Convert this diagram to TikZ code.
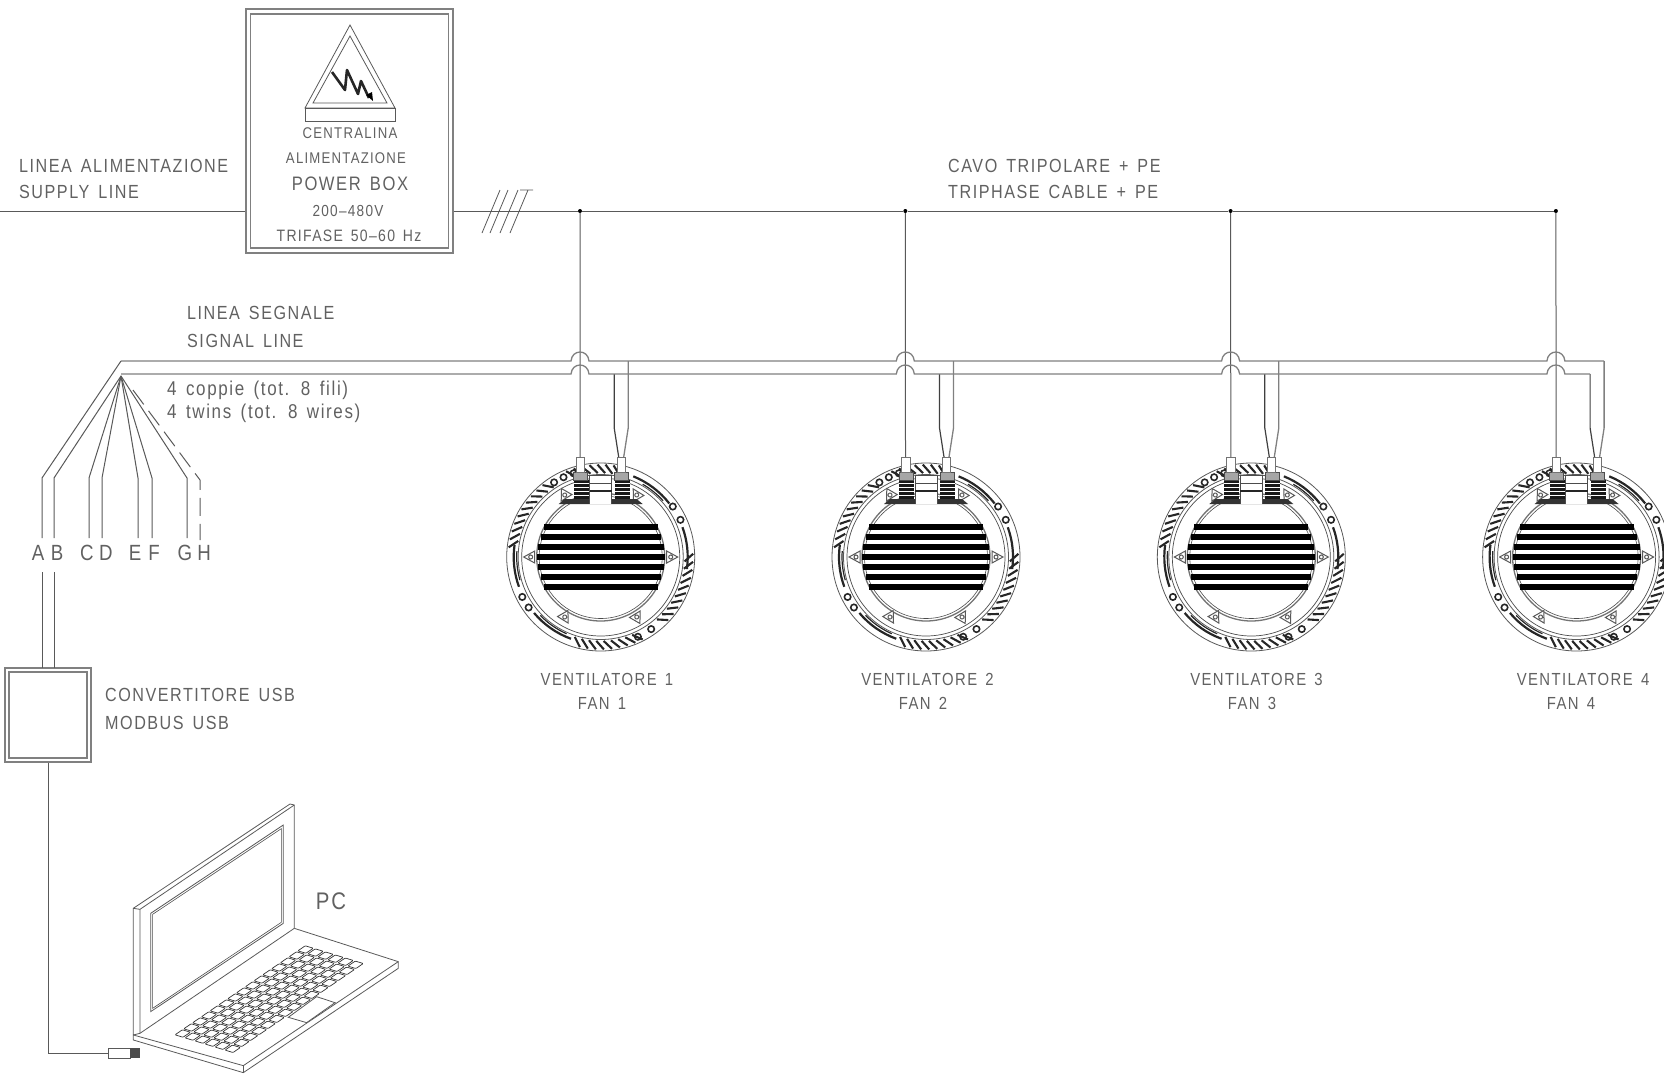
\documentclass[tikz,border=0pt]{standalone}
\usepackage{fontspec}
\usetikzlibrary{calc}
\newfontfamily\cadf[FakeStretch=.85,LetterSpace=8,WordSpace=1.3]{Liberation Sans}
\newfontfamily\cads[FakeStretch=.85,LetterSpace=8,WordSpace=1.5]{Liberation Sans}
\tikzset{
  wire/.style={line width=1pt,draw=black!65},
  sigwire/.style={line width=1.3pt,draw=black!50},
  thin wire/.style={line width=.8pt,draw=black!65},
  label/.style={inner sep=0pt,text=black!62,font=\cadf\fontsize{#1}{#1}\selectfont},
  label/.default=19,
  wlabel/.style={inner sep=0pt,text=black!62,font=\cads\fontsize{#1}{#1}\selectfont},
  joint/.style={circle,fill=black,inner sep=0pt,minimum size=4pt},
  boxline/.style={draw=black!50,line width=1.2pt,inner sep=0pt},
  fan/.pic={
    \begin{scope}[x=1pt,y=1pt]
      % body rings
      \draw[thin wire] (0,0) circle (94);
      \draw[thin wire] (0,0) circle (82.5);
      \draw[line width=.7pt,draw=black!70] (0,0) circle (79);
      \draw[line width=1.3pt,draw=black!55] (0,0) circle (64);
      \draw[line width=.6pt,draw=black!70] (0,0) circle (61.5);
      % ticks in the outer ring
      \foreach \a in {72,77,...,107,124,129,...,169,252,257,...,292,312,317,...,357}
        \draw[line width=2.1pt,black!85] (\a:84) -- (\a+5:92.5);
      % bands in the outer ring
      \foreach \s/\e in {38/68,172/200,220/250,-8/20}
        \draw[line width=2.2pt,black!85] (\s:87) arc (\s:\e:87);
      \foreach \s/\e in {42/60,176/196,224/246}
        \draw[line width=1.2pt,black!85] (\s:84) arc (\s:\e:84);
      % small circles in the outer ring
      \foreach \a in {25,35,108,115,122,207,215,295,305}
        \draw[line width=1.6pt,black!85] (\a:88) circle (3.2);
      % fins
      \foreach \y/\w in {-30/57,-20/60,-10/63,0/64,10/63,20/60,30/57}
        \fill[black] (-\w,\y-2.6) rectangle (\w,\y+2.6);
      % lugs
      \foreach \x/\y/\r in {-70/0/90,70/0/-90,-36/-60/-150,36/-60/-30,-36/62/150,36/62/30}
        \draw[line width=1pt,black!65,fill=white,shift={(\x,\y)},rotate=\r]
          (-6,-4) -- (6,-4) -- (0,7) -- cycle (0,0) circle (2);
      % top plate and terminals
      \fill[black!80] (-42,53) -- (42,53) -- (36,58) -- (-36,58) -- cycle;
      \fill[black!90] (-27,58) rectangle (-12,77);
      \fill[black!90] (14,58) rectangle (29,77);
      \foreach \y in {62,66,...,74} {
        \draw[white,line width=.5pt] (-27,\y) -- (-12,\y);
        \draw[white,line width=.5pt] (14,\y) -- (29,\y);
      }
      \fill[white] (-11,53) rectangle (11,82);
      \draw[line width=.7pt,black!70] (-11,82) -- (11,82) (-11,53) -- (-11,82) (11,53) -- (11,82)
        (-11,74) -- (11,74);
      \draw[line width=1.2pt,black!85] (-11,66) -- (11,66);
      \draw[line width=.9pt,black!70,fill=black!35] (-27,77) rectangle (-13,85);
      \draw[line width=.9pt,black!70,fill=black!35] (14,77) rectangle (28,85);
      \draw[line width=.9pt,black!55,fill=white] (-24.5,85) rectangle (-16,100);
      \draw[line width=.9pt,black!55,fill=white] (16.5,85) rectangle (24.5,100);
      % wire anchor points
      \coordinate (-conn1) at (-20.5,100);
      \coordinate (-conna) at (18,100);
      \coordinate (-connb) at (23,100);
      \coordinate (-kneea) at (13.5,129);
      \coordinate (-kneeb) at (27.5,129);
      \coordinate (-low) at (13.5,183);
      \coordinate (-up) at (27.5,196);
    \end{scope}
  }
}
\begin{document}
\begin{tikzpicture}[x=1pt,y=-1pt]
\useasboundingbox (0,0) rectangle (1664,1074);

% power box
\node[boxline,minimum width=207pt,minimum height=244pt] (pb) at (349.5,131) {};
\node[boxline,minimum width=198pt,minimum height=234pt] (pbi) at (349.5,131) {};
\draw[thin wire] (350,25) -- (395,108) -- (305,108) -- cycle;
\draw[thin wire] (350,36) -- (387,103) -- (313,103) -- cycle;
\draw[thin wire] (305,108) rectangle (395,121);
\draw[line width=2.6pt,black!85,line join=round] (332,72) -- (345,90) -- (347,70) -- (358,94) -- (361,81) -- (369,98);
\fill[black] (373,101) -- (366,95) -- (372,92) -- cycle;
\node[label=15.5] (t1) at (350,133) {CENTRALINA};
\node[label=15.5] (t2) at (346,158) {ALIMENTAZIONE};
\node[label=19.5] (t3) at (350,184) {POWER BOX};
\node[label=16] (t4) at (348,211) {200–480V};
\node[label=16.5] (t5) at (349,236) {TRIFASE 50–60 Hz};

% supply line and power cable
\coordinate (in) at (0,211);
\draw[wire] (in) -- (in -| pb.west);
\foreach \i/\x in {1/580,2/905.3,3/1230.6,4/1555.9}
  \node[joint] (d\i) at (\x,211) {};
\draw[wire] (in -| pb.east) -- (d1) -- (d2) -- (d3) -- (d4);
\draw[thin wire] (482,233) -- (500,190) (490,233) -- (508,190) (500,233) -- (518,190)
  (510,233) -- (528,190) (520,190) -- (533,190);

% fans
\foreach \i/\x in {1/600.7,2/926,3/1251.3,4/1576.6}
  \pic (f\i) at (\x,557) {fan};
\foreach \i in {1,2,3,4} {
  \draw[wire] (d\i) -- (f\i-conn1);
  \draw[line width=1.2pt,black!75] (f\i-low) -- (f\i-kneea) -- (f\i-conna);
  \draw[sigwire] (f\i-up) -- (f\i-kneeb) -- (f\i-connb);
}

% signal line
\coordinate (sigA) at (121,361);
\coordinate (sigB) at (121,374);
\draw[sigwire] (sigA) \foreach \x in {580,905.3,1230.6,1555.9} {
   -- (\x-9,361) .. controls (\x-8,349) and (\x+8,349) .. (\x+9,361) } -- (f4-up);
\draw[sigwire] (sigB) \foreach \x in {580,905.3,1230.6,1555.9} {
   -- (\x-9,374) .. controls (\x-8,362) and (\x+8,362) .. (\x+9,374) } -- (f4-low);

% wire fan-out
\coordinate (apex) at (121,376);
\node[label=22] (lA) at (38,553) {A};
\node[label=22] (lB) at (57,553) {B};
\node[label=22] (lC) at (87,553) {C};
\node[label=22] (lD) at (106,553) {D};
\node[label=22] (lE) at (135,553) {E};
\node[label=22] (lF) at (154,553) {F};
\node[label=22] (lG) at (185,553) {G};
\node[label=22] (lH) at (204,553) {H};
\draw[wire] (sigA) -- (42,478) -- (42,538);
\draw[wire] (apex) -- (54,478) -- (54,538);
\draw[wire] (apex) -- (89,478) -- (89,538);
\draw[wire] (apex) -- (102,478) -- (102,538);
\draw[wire] (apex) -- (138,478) -- (138,538);
\draw[wire] (apex) -- (152,478) -- (152,538);
\draw[wire] (apex) -- (187,478) -- (187,538);
\draw[wire,dash pattern=on 18pt off 8pt] (133,390) -- (200,480) -- (200,540);

% converter
\node[boxline,minimum width=86pt,minimum height=94pt] (conv) at (48,715) {};
\node[boxline,minimum width=78pt,minimum height=86pt] (convi) at (48,715) {};
\draw[wire] (42,572) -- (42,668) (54,572) -- (54,668);

% cable to laptop
\node[draw=black!65,line width=.9pt,inner sep=0pt,minimum width=22pt,minimum height=10pt] (plug) at (119,1053) {};
\fill[black!70] (plug.north east) rectangle ($(plug.south east)+(10,0)$);
\draw[wire] (conv.south) -- (conv.south |- plug.west) -- (plug.west);

% laptop
\begin{scope}[shift={(30,780)},x=.3333pt,y=-.3333pt]
  \draw[thin wire,line join=round] (310,765) -- (310,385) -- (780,72) -- (793,75) -- (793,445) -- (330,760) -- cycle;
  \draw[thin wire] (310,385) -- (330,388) -- (793,75) (330,388) -- (330,760);
  \draw[thin wire] (362,400) -- (760,135) -- (760,430) -- (362,695) -- cycle;
  \draw[line width=.6pt,black!70] (368,403) -- (754,146) -- (754,427) -- (368,685) -- cycle;
  \draw[thin wire,line join=round] (310,765) -- (310,780) -- (640,878) -- (1105,565) -- (1105,545) -- (793,445);
  \draw[thin wire] (310,765) -- (640,857) -- (1105,545);
  \draw[thin wire] (640,857) -- (640,878);
  \foreach \u in {0,...,14} \foreach \v in {0,...,5} {
    \pgfmathsetmacro\xa{430+(\u+.08)/15*395+(\v+.1)/6*180}
    \pgfmathsetmacro\ya{765-(\u+.08)/15*270+(\v+.1)/6*55}
    \pgfmathsetmacro\xb{430+(\u+.92)/15*395+(\v+.1)/6*180}
    \pgfmathsetmacro\yb{765-(\u+.92)/15*270+(\v+.1)/6*55}
    \pgfmathsetmacro\xc{430+(\u+.92)/15*395+(\v+.9)/6*180}
    \pgfmathsetmacro\yc{765-(\u+.92)/15*270+(\v+.9)/6*55}
    \pgfmathsetmacro\xd{430+(\u+.08)/15*395+(\v+.9)/6*180}
    \pgfmathsetmacro\yd{765-(\u+.08)/15*270+(\v+.9)/6*55}
    \draw[line width=.7pt,black!80,rounded corners=.8pt] (\xa,\ya) -- (\xb,\yb) -- (\xc,\yc) -- (\xd,\yd) -- cycle;
  }
  \draw[thin wire,fill=white] (775,712) -- (830,728) -- (915,668) -- (860,650) -- cycle;
\end{scope}

% labels
\node[label,anchor=west] (n1) at (19,165.5) {LINEA ALIMENTAZIONE};
\node[label,anchor=west] (n2) at (19,192) {SUPPLY LINE};
\node[label,anchor=west] (n3) at (948,165.5) {CAVO TRIPOLARE + PE};
\node[label,anchor=west] (n4) at (948,192) {TRIPHASE CABLE + PE};
\node[label,anchor=west] (n5) at (187,313) {LINEA SEGNALE};
\node[label,anchor=west] (n6) at (187,341) {SIGNAL LINE};
\node[wlabel=20,anchor=west] (n7) at (167,390) {4 coppie (tot. 8 fili)};
\node[wlabel=20,anchor=west] (n8) at (167,413) {4 twins (tot. 8 wires)};
\node[label,anchor=west] (n9) at (105,695) {CONVERTITORE USB};
\node[label,anchor=west] (n10) at (105,723) {MODBUS USB};
\node[label=24] (pc) at (331,901) {PC};
\foreach \i/\xa/\xb in {1/607/602,2/927.5/923,3/1256.5/1252,4/1583/1571} {
  \node[label=17.5] (v\i) at (\xa,679) {VENTILATORE \i};
  \node[label=17.5] (w\i) at (\xb,703.5) {FAN \i};
}
\end{tikzpicture}
\end{document}
